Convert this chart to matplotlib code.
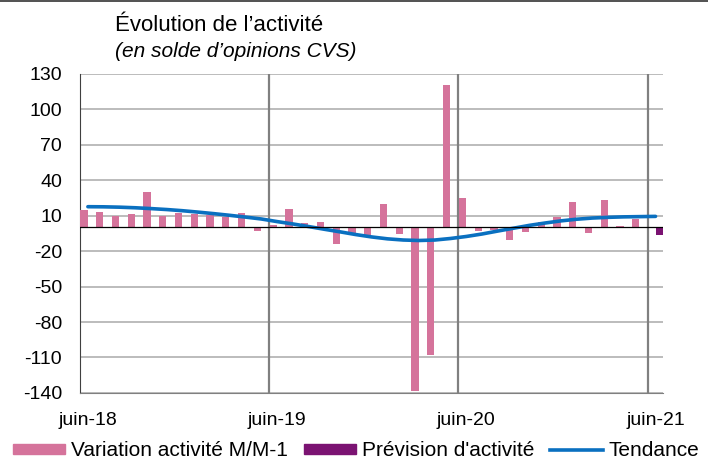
import matplotlib.pyplot as plt
import numpy as np
from matplotlib.lines import Line2D
from matplotlib.patches import Patch

plt.rcParams["font.family"] = ["Liberation Sans", "DejaVu Sans"]

# monthly categories, juin-18 .. juin-21
months = [f"m{i}" for i in range(37)]
tick_labels = ["juin-18", "juin-19", "juin-20", "juin-21"]
tick_months = [0, 12, 24, 36]

variation = [15, 13, 10, 11, 30, 9.5, 12.5, 11.5, 10.5, 8.5, 12, -3,
             2.5, 15.5, 4, 5, -14, -5, -6.5, 20, -5.5, -138, -108, 121,
             25, -3, -2.5, -11, -4, 5, 9, 22, -5, 23, 1.5, 7.5, np.nan]
prevision = [np.nan] * 36 + [-6.5]
tendance = [17.6, 17.5, 17.2, 16.7, 16.0, 15.2, 14.2, 13.0, 11.7, 10.3, 8.8, 7.2,
            5.0, 3.0, 0.8, -1.5, -3.7, -6.0, -8.0, -9.6, -10.6, -11.0, -10.6, -9.3,
            -7.6, -5.5, -3.0, -0.6, 1.8, 3.8, 5.6, 7.0, 8.0, 8.6, 9.0, 9.2, 9.4]

yticks = list(range(-140, 131, 30))

PINK = "#D5739B"
PURPLE = "#7B1372"
BLUE = "#0A70C0"

fig = plt.figure(figsize=(7.08, 4.59), dpi=100)
ax = fig.add_axes([0.113, 0.144, 0.824, 0.695])

x = np.arange(len(months))
ax.bar(x - 0.25, variation, width=0.46, color=PINK, zorder=3)
ax.bar(x + 0.25, prevision, width=0.46, color=PURPLE, zorder=3)
ax.plot(x, tendance, color=BLUE, lw=2.6, zorder=4, solid_capstyle="round")

ax.set_xlim(-0.5, 36.5)
ax.set_ylim(-140, 130)
ax.set_yticks(yticks)
ax.set_yticklabels([str(v) for v in yticks], fontsize=14)
ax.set_xticks(tick_months)
ax.set_xticklabels(tick_labels, fontsize=14)
ax.tick_params(axis="y", length=0, pad=13)
ax.tick_params(axis="x", length=0, pad=14)

for v in yticks:
    ax.axhline(v, color="#A9A9A9", lw=1.1, zorder=1)
for xv in [11.5, 23.5, 35.5]:
    ax.axvline(xv, color="#808080", lw=1.6, zorder=1)
ax.axhline(0, color="black", lw=0.9, zorder=4)

for side in ["top", "right"]:
    ax.spines[side].set_visible(False)
ax.spines["left"].set_color("#404040")
ax.spines["bottom"].set_color("#808080")

fig.text(0.1624, 0.9325, "Évolution de l\u2019activité", fontsize=16, va="baseline")
fig.text(0.1624, 0.876, "(en solde d\u2019opinions CVS)", fontsize=15,
         style="italic", va="baseline")
fig.add_artist(Line2D([0, 1], [0.998, 0.998], color="#333333", lw=1.2))

handles = [Patch(color=PINK), Patch(color=PURPLE), Line2D([], [], color=BLUE, lw=2.6)]
labels = ["Variation activité M/M-1", "Prévision d'activité", "Tendance"]
fig.legend(handles, labels, loc="center", bbox_to_anchor=(0.503, 0.018),
           ncol=3, frameon=False, fontsize=15, handlelength=2.5,
           handleheight=0.4, columnspacing=0.77, handletextpad=0.29,
           borderpad=0, borderaxespad=0)

fig.savefig("out.png", dpi=100)
